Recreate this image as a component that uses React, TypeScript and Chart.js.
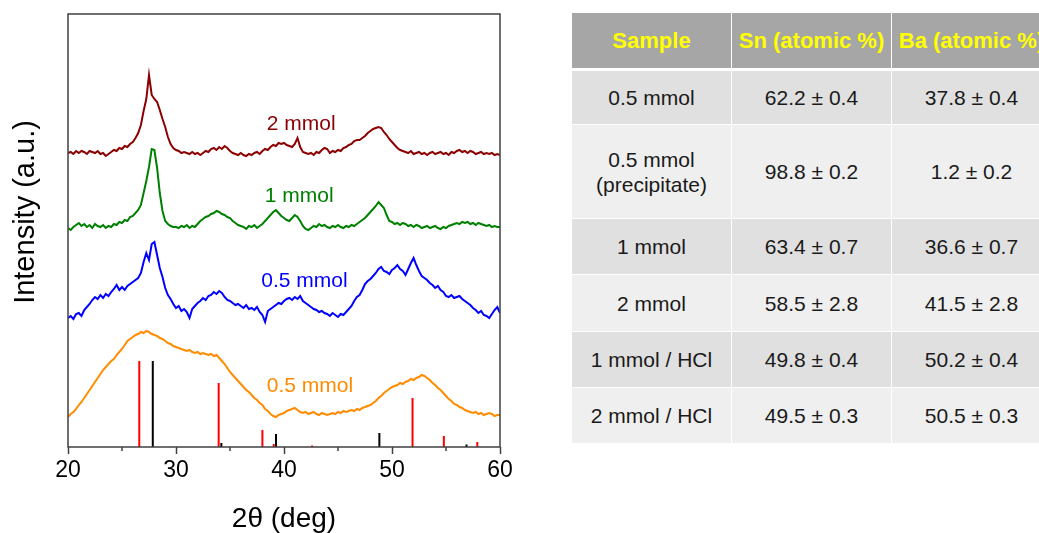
import React, { useEffect, useRef } from 'react';
import { Chart, registerables } from 'chart.js';

Chart.register(...registerables);

// 2θ sampling positions (deg)
const twoTheta = [
  20, 20.25, 20.5, 20.75, 21, 21.25, 21.5, 21.75, 22, 22.25, 22.5, 22.75, 23, 23.25, 23.5, 23.75,
  24, 24.25, 24.5, 24.75, 25, 25.25, 25.5, 25.75, 26, 26.25, 26.5, 26.75, 27, 27.25, 27.5, 27.75,
  28, 28.25, 28.5, 28.75, 29, 29.25, 29.5, 29.75, 30, 30.25, 30.5, 30.75, 31, 31.25, 31.5, 31.75,
  32, 32.25, 32.5, 32.75, 33, 33.25, 33.5, 33.75, 34, 34.25, 34.5, 34.75, 35, 35.25, 35.5, 35.75,
  36, 36.25, 36.5, 36.75, 37, 37.25, 37.5, 37.75, 38, 38.25, 38.5, 38.75, 39, 39.25, 39.5, 39.75,
  40, 40.25, 40.5, 40.75, 41, 41.25, 41.5, 41.75, 42, 42.25, 42.5, 42.75, 43, 43.25, 43.5, 43.75,
  44, 44.25, 44.5, 44.75, 45, 45.25, 45.5, 45.75, 46, 46.25, 46.5, 46.75, 47, 47.25, 47.5, 47.75,
  48, 48.25, 48.5, 48.75, 49, 49.25, 49.5, 49.75, 50, 50.25, 50.5, 50.75, 51, 51.25, 51.5, 51.75,
  52, 52.25, 52.5, 52.75, 53, 53.25, 53.5, 53.75, 54, 54.25, 54.5, 54.75, 55, 55.25, 55.5, 55.75,
  56, 56.25, 56.5, 56.75, 57, 57.25, 57.5, 57.75, 58, 58.25, 58.5, 58.75, 59, 59.25, 59.5, 59.75,
  60,
];

// Offset intensities (a.u.)
const intensity2mmol = [
  294, 295, 293, 296, 294, 296, 295, 293, 296, 295, 294, 296, 293, 294, 291, 293,
  295, 297, 296, 299, 298, 301, 300, 303, 305, 309, 314, 322, 336, 348, 372, 352,
  348, 345, 337, 328, 320, 310, 303, 299, 297, 296, 294, 295, 294, 293, 295, 293,
  294, 292, 294, 296, 295, 298, 299, 297, 300, 298, 301, 299, 296, 294, 293, 292,
  294, 292, 291, 293, 292, 294, 295, 293, 296, 298, 297, 300, 302, 301, 304, 303,
  304, 302, 301, 300, 303, 309, 300, 295, 294, 293, 294, 292, 295, 294, 297, 299,
  298, 294, 296, 295, 297, 296, 299, 300, 302, 303, 306, 307, 307, 309, 311, 314,
  316, 318, 319, 320, 319, 315, 312, 308, 305, 302, 299, 297, 296, 295, 294, 296,
  293, 294, 295, 293, 294, 292, 294, 295, 293, 294, 295, 293, 294, 292, 295, 294,
  296, 297, 295, 296, 294, 296, 295, 293, 294, 295, 293, 294, 293, 294, 292, 293,
  292,
];

const intensity1mmol = [
  219, 217, 220, 222, 224, 221, 223, 220, 222, 219, 223, 221, 220, 222, 219, 221,
  220, 223, 222, 225, 224, 227, 226, 230, 231, 234, 237, 242, 254, 266, 280, 298,
  297, 279, 254, 236, 226, 223, 221, 220, 220, 219, 221, 220, 222, 219, 221, 220,
  223, 226, 228, 230, 231, 233, 234, 236, 235, 233, 232, 230, 229, 226, 224, 222,
  221, 220, 218, 221, 220, 222, 219, 221, 223, 226, 229, 232, 235, 237, 234, 231,
  229, 227, 226, 229, 232, 230, 226, 221, 218, 217, 219, 221, 220, 223, 221, 222,
  220, 219, 221, 220, 222, 220, 219, 221, 220, 222, 221, 223, 225, 227, 229, 232,
  235, 238, 241, 245, 242, 239, 232, 226, 225, 223, 224, 222, 224, 223, 221, 222,
  220, 222, 221, 219, 220, 221, 219, 220, 221, 219, 218, 220, 219, 221, 222, 223,
  224, 223, 225, 224, 225, 223, 224, 222, 224, 223, 222, 221, 222, 220, 221, 220,
  220,
];

const intensity05mmol = [
  129, 131, 128, 133, 134, 131, 137, 140, 143, 147, 150, 148, 152, 149, 153, 151,
  155, 158, 162, 157, 160, 157, 161, 163, 165, 167, 169, 174, 185, 194, 187, 203,
  205, 192, 179, 170, 159, 152, 148, 143, 139, 141, 136, 138, 135, 129, 138, 141,
  144, 146, 149, 147, 151, 152, 155, 153, 156, 154, 150, 147, 146, 144, 142, 143,
  141, 139, 142, 138, 139, 137, 140, 135, 132, 125, 136, 138, 140, 142, 144, 143,
  146, 148, 149, 147, 150, 148, 151, 146, 144, 142, 140, 138, 137, 135, 136, 134,
  133, 131, 134, 132, 130, 133, 132, 135, 138, 141, 146, 150, 152, 157, 163, 166,
  168, 171, 174, 178, 180, 176, 175, 173, 177, 179, 182, 178, 176, 172, 178, 184,
  189, 182, 176, 171, 169, 167, 164, 162, 159, 161, 157, 155, 151, 150, 152, 149,
  150, 151, 148, 146, 144, 142, 139, 137, 134, 136, 132, 131, 129, 133, 137, 140,
  134,
];

const intensity05mmolBottom = [
  30, 33, 35, 38, 42, 45, 49, 53, 57, 61, 65, 69, 73, 77, 80, 83,
  86, 88, 92, 95, 98, 102, 106, 108, 110, 112, 113, 115, 114, 116, 115, 113,
  112, 111, 109, 108, 106, 104, 103, 101, 100, 99, 98, 97, 96, 97, 95, 94,
  95, 93, 94, 93, 92, 93, 91, 92, 89, 86, 83, 79, 75, 72, 69, 66,
  63, 60, 57, 55, 52, 49, 47, 44, 42, 38, 36, 33, 31, 30, 32, 33,
  34, 36, 37, 38, 39, 37, 35, 34, 35, 33, 34, 35, 33, 32, 34, 33,
  32, 33, 34, 33, 35, 34, 36, 35, 36, 37, 36, 38, 37, 39, 40, 41,
  42, 44, 46, 49, 51, 54, 56, 58, 60, 61, 62, 64, 63, 65, 66, 68,
  67, 69, 70, 72, 71, 69, 67, 64, 62, 59, 57, 54, 51, 48, 46, 43,
  42, 40, 39, 37, 36, 35, 34, 35, 33, 34, 32, 33, 34, 33, 31, 32,
  32,
];

// Reference stick patterns
const redStickPos = [26.6, 33.95, 38.0, 39.05, 42.6, 51.9, 54.8, 57.9];
const redStickHeight = [86, 64, 17, 3, 1.5, 49, 11, 5];
const blackStickPos = [27.85, 34.2, 39.26, 48.83, 56.9];
const blackStickHeight = [86, 4, 13, 14, 2.5];

const seriesLabels = ['2 mmol', '1 mmol', '0.5 mmol', '0.5 mmol'];
const seriesColors = ['#8B0000', '#008000', '#0000FF', '#FF8C00'];
const labelAnchorX = [41.6, 41.4, 41.9, 42.4];
const labelAnchorY = [317, 245, 160, 55];

const xTicks = [20, 30, 40, 50, 60];
const xMinorTicks = [25, 35, 45, 55];

const tableHeader = ['Sample', 'Sn (atomic %)', 'Ba (atomic %)'];
const tableSamples = ['0.5 mmol', '0.5 mmol\n(precipitate)', '1 mmol', '2 mmol', '1 mmol / HCl', '2 mmol / HCl'];
const snValues = ['62.2 ± 0.4', '98.8 ± 0.2', '63.4 ± 0.7', '58.5 ± 2.8', '49.8 ± 0.4', '49.5 ± 0.3'];
const baValues = ['37.8 ± 0.4', '1.2 ± 0.2', '36.6 ± 0.7', '41.5 ± 2.8', '50.2 ± 0.4', '50.5 ± 0.3'];

const FONT = '"Liberation Sans", Arial, Helvetica, sans-serif';

const toPoints = (ys: number[]) => twoTheta.map((x, i) => ({ x, y: ys[i] }));
const toSticks = (pos: number[], h: number[]) =>
  pos.flatMap((x, i) => [
    { x, y: 0 },
    { x, y: h[i] },
    { x, y: null as any },
  ]);

const decorPlugin = {
  id: 'decor',
  afterDatasetsDraw(chart: any) {
    const { ctx, chartArea: a, scales } = chart;
    const xs = scales.x;
    const ys = scales.y;
    ctx.save();
    ctx.strokeStyle = '#404040';
    ctx.lineWidth = 1.5;
    ctx.strokeRect(a.left, a.top, a.right - a.left, a.bottom - a.top);
    ctx.beginPath();
    for (const v of xMinorTicks) {
      const px = xs.getPixelForValue(v);
      ctx.moveTo(px, a.bottom);
      ctx.lineTo(px, a.bottom + 4);
    }
    ctx.stroke();

    ctx.font = `21px ${FONT}`;
    ctx.textAlign = 'center';
    ctx.textBaseline = 'alphabetic';
    seriesLabels.forEach((t, i) => {
      ctx.fillStyle = seriesColors[i];
      ctx.fillText(t, xs.getPixelForValue(labelAnchorX[i]), ys.getPixelForValue(labelAnchorY[i]));
    });

    ctx.fillStyle = '#000';
    ctx.font = `28px ${FONT}`;
    ctx.fillText('2θ (deg)', (a.left + a.right) / 2, 527);

    ctx.translate(a.left - 34, 212);
    ctx.rotate(-Math.PI / 2);
    ctx.font = `29px ${FONT}`;
    ctx.fillText('Intensity (a.u.)', 0, 0);
    ctx.restore();
  },
};

function XrdChart() {
  const ref = useRef<HTMLCanvasElement | null>(null);
  useEffect(() => {
    if (!ref.current) return;
    const series = [intensity2mmol, intensity1mmol, intensity05mmol, intensity05mmolBottom];
    const chart = new Chart(ref.current, {
      type: 'line',
      data: {
        datasets: [
          ...series.map((s, i) => ({
            label: seriesLabels[i],
            data: toPoints(s),
            borderColor: seriesColors[i],
            borderWidth: 2,
            pointRadius: 0,
            tension: 0,
          })),
          {
            label: 'red ref',
            data: toSticks(redStickPos, redStickHeight),
            borderColor: '#FF0000',
            borderWidth: 2,
            pointRadius: 0,
            spanGaps: false,
          },
          {
            label: 'black ref',
            data: toSticks(blackStickPos, blackStickHeight),
            borderColor: '#000000',
            borderWidth: 2,
            pointRadius: 0,
            spanGaps: false,
          },
        ] as any,
      },
      options: {
        responsive: false,
        animation: false,
        devicePixelRatio: 1,
        layout: { padding: { left: 68, top: 14, right: 40, bottom: 0 } },
        plugins: { legend: { display: false }, tooltip: { enabled: false } },
        scales: {
          x: {
            type: 'linear',
            min: 20,
            max: 60,
            afterBuildTicks: (s: any) => {
              s.ticks = xTicks.map((v) => ({ value: v }));
            },
            afterFit: (s: any) => {
              s.height = 86;
            },
            grid: {
              display: true,
              drawOnChartArea: false,
              drawTicks: true,
              tickLength: 7,
              tickWidth: 1.5,
              tickColor: '#404040',
            },
            border: { display: false },
            ticks: {
              color: '#000',
              font: { family: FONT, size: 23 },
              padding: 3,
              maxRotation: 0,
              autoSkip: false,
            },
          },
          y: { type: 'linear', min: 0, max: 433, display: false },
        },
      },
      plugins: [decorPlugin],
    });
    return () => chart.destroy();
  }, []);
  return (
    <canvas
      ref={ref}
      width={540}
      height={533}
      style={{ position: 'absolute', left: 0, top: 0, width: 540, height: 533 }}
    />
  );
}

const rowHeights = [54, 94, 56, 57, 56, 56];

function CompositionTable() {
  const cell = (content: string, h: number, bg: string, extra: any = {}) => (
    <div
      style={{
        boxSizing: 'border-box',
        height: h,
        background: bg,
        borderRight: '1px solid #fff',
        borderBottom: '1px solid #fff',
        display: 'flex',
        alignItems: 'center',
        justifyContent: 'center',
        textAlign: 'center',
        whiteSpace: 'pre-line',
        lineHeight: '25px',
        ...extra,
      }}
    >
      {content}
    </div>
  );
  return (
    <div
      style={{
        position: 'absolute',
        left: 572,
        top: 13,
        width: 1039 - 572,
        overflow: 'hidden',
        fontFamily: FONT,
        fontSize: 21,
        color: '#1a1a1a',
      }}
    >
      <div style={{ display: 'grid', gridTemplateColumns: '160px 160px 160px', width: 480 }}>
        {tableHeader.map((h) =>
          cell(h, 58, '#A6A6A6', {
            color: '#FFFF00',
            fontWeight: 'bold',
            fontSize: 22,
            borderBottom: '3px solid #fff',
            whiteSpace: 'nowrap',
          })
        )}
        {tableSamples.map((s, i) => {
          const bg = i % 2 === 0 ? '#E0E0E0' : '#EFEFEF';
          return (
            <React.Fragment key={i}>
              {cell(s, rowHeights[i], bg)}
              {cell(snValues[i], rowHeights[i], bg)}
              {cell(baValues[i], rowHeights[i], bg)}
            </React.Fragment>
          );
        })}
      </div>
    </div>
  );
}

export default function App() {
  return (
    <div style={{ position: 'absolute', left: 0, top: 0, width: 1039, height: 533, background: '#fff' }}>
      <XrdChart />
      <CompositionTable />
    </div>
  );
}
